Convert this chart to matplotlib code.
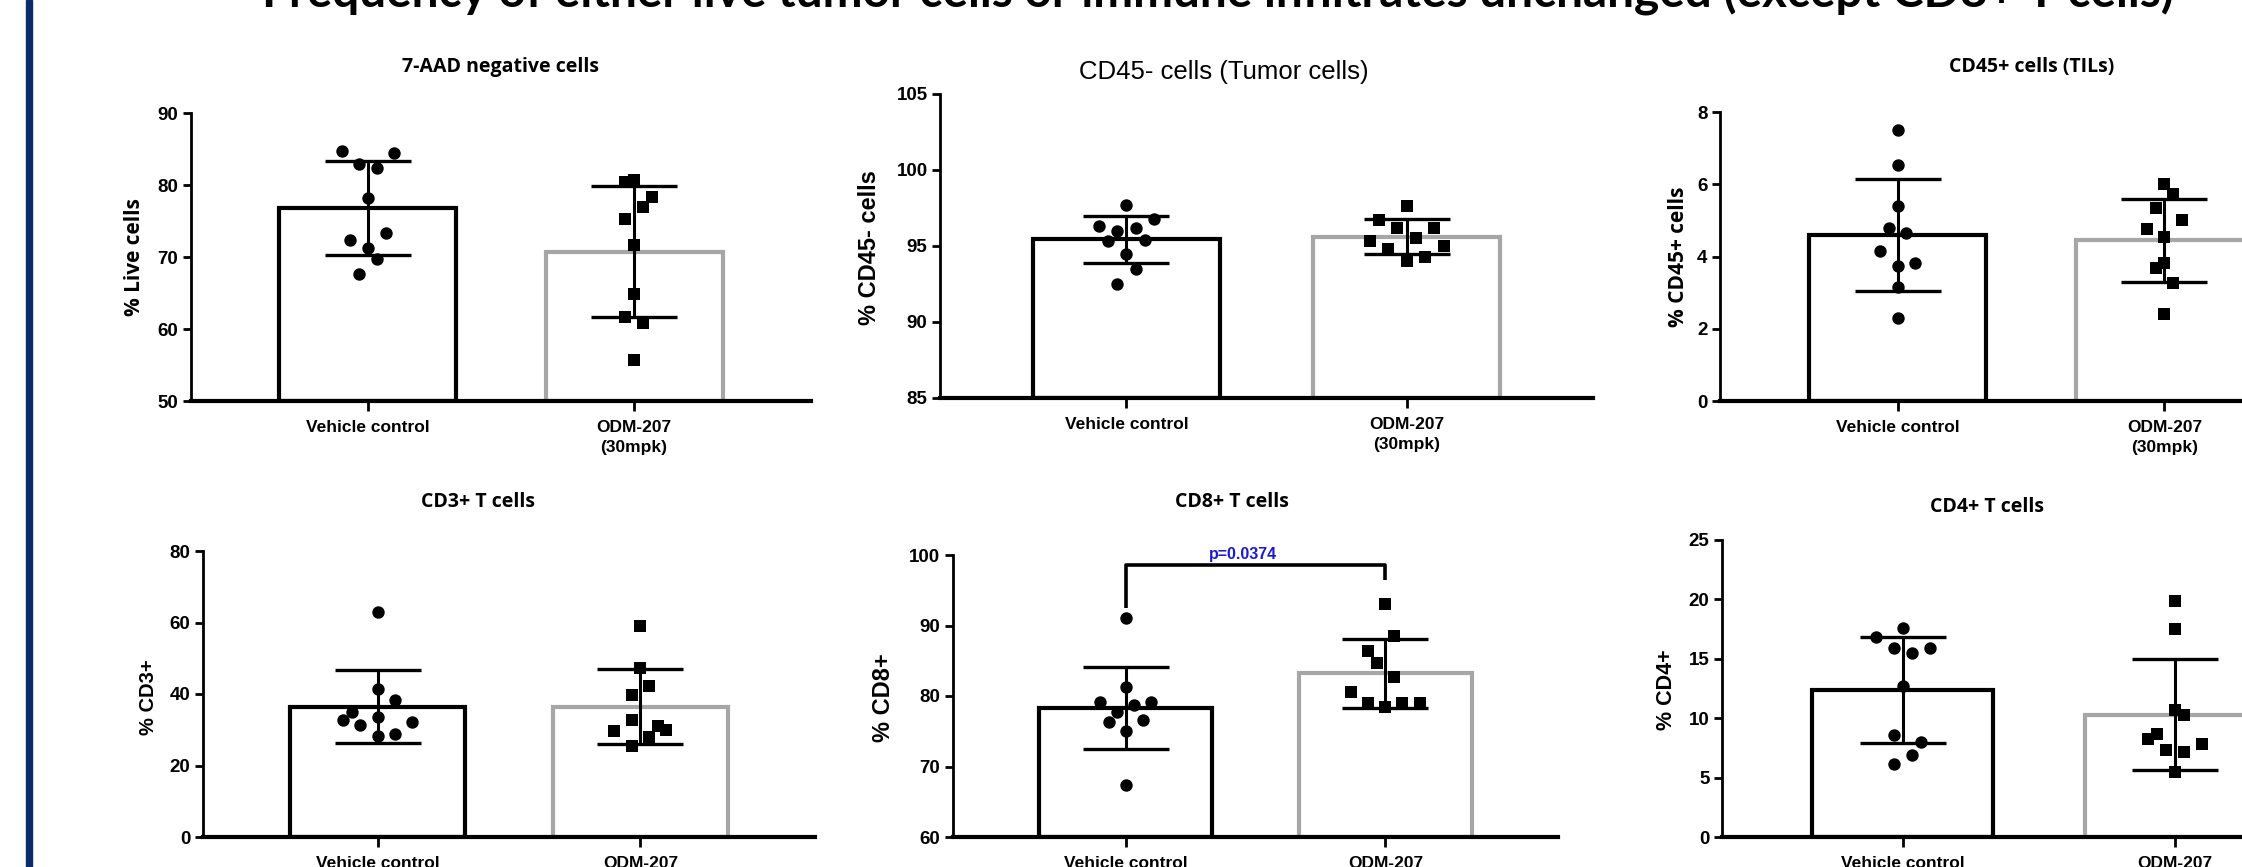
import numpy as np
import matplotlib.pyplot as plt
from matplotlib.patches import Rectangle

W, H = 2242, 867
DPI = 100

groups = ["Vehicle control", "ODM-207\n(30mpk)"]
main_title = "Frequency of either live tumor cells or immune infiltrates unchanged (except CD8+ T cells)"

# --- values (10 animals per group) ---
# 7-AAD negative cells
live_veh = [84.7, 84.4, 82.9, 82.4, 78.2, 73.4, 72.4, 71.3, 69.7, 67.7]
live_odm = [80.4, 80.7, 78.3, 77.0, 75.3, 71.6, 64.8, 61.7, 60.9, 55.7]
live_mean = [76.8, 70.7]
live_sd = [6.5, 9.1]

# CD45- cells (tumor)
cd45n_veh = [97.7, 96.8, 96.3, 96.0, 96.2, 95.3, 95.4, 94.5, 93.5, 92.5]
cd45n_odm = [97.6, 96.7, 96.2, 96.2, 95.5, 95.3, 95.0, 94.8, 94.3, 94.0]
cd45n_mean = [95.45, 95.6]
cd45n_sd = [1.55, 1.15]

# CD45+ cells (TILs)
cd45p_veh = [7.49, 6.52, 5.40, 4.79, 4.64, 4.15, 3.82, 3.74, 3.16, 2.29]
cd45p_odm = [6.02, 5.74, 5.33, 5.00, 4.76, 4.53, 3.82, 3.69, 3.27, 2.40]
cd45p_mean = [4.6, 4.45]
cd45p_sd = [1.55, 1.15]

# CD3+ T cells
cd3_veh = [62.8, 41.4, 38.2, 35.1, 33.5, 32.6, 32.1, 31.2, 28.3, 28.8]
cd3_odm = [59.1, 47.2, 42.3, 39.8, 32.8, 31.1, 29.7, 30.0, 27.9, 25.5]
cd3_mean = [36.5, 36.5]
cd3_sd = [10.2, 10.5]

# CD8+ T cells
cd8_veh = [91.0, 81.3, 79.1, 79.1, 78.7, 77.7, 76.3, 76.6, 75.0, 67.4]
cd8_odm = [93.1, 88.5, 86.4, 84.7, 82.7, 80.6, 79.0, 79.0, 79.0, 78.5]
cd8_mean = [78.3, 83.2]
cd8_sd = [5.8, 4.95]
cd8_bracket = [92.5, 98.6, 96.5]   # left leg, top, right leg
cd8_p = "p=0.0374"

# CD4+ T cells
cd4_veh = [17.6, 16.8, 15.9, 15.45, 15.9, 12.7, 8.57, 8.0, 6.88, 6.18]
cd4_odm = [19.86, 17.47, 10.67, 10.25, 8.7, 8.29, 7.81, 7.3, 7.16, 5.48]
cd4_mean = [12.4, 10.3]
cd4_sd = [4.45, 4.7]

# horizontal scatter columns (as arranged in the original)
live_slot = ([-3, 3, -1, 1, 0, 2, -2, 0, 1, -1], [-1, 0, 2, 1, -1, 0, 0, -1, 1, 0])
cd45n_slot = ([0, 3, -3, -1, 1, -2, 2, 0, 1, -1], [0, -3, -1, 3, 1, -4, 4, -2, 2, 0])
cd45p_slot = ([0, 0, 0, -1, 1, -2, 2, 0, 0, 0], [0, 1, -1, 2, -2, 0, 0, -1, 1, 0])
cd3_slot = ([0, 0, 2, -3, 0, -4, 4, -2, 0, 2], [0, 0, 1, -1, -1, 2, -3, 3, 1, -1])
cd8_slot = ([0, 0, -3, 3, 1, -1, -2, 2, 0, 0], [0, 1, -2, -1, 1, -4, -2, 2, 4, 0])
cd4_slot = ([0, -3, -1, 1, 3, 0, -1, 2, 1, -1], [0, 0, 0, 1, -2, -3, 3, -1, 1, 0])

NARROW = ['Liberation Sans Narrow', 'Liberation Sans', 'DejaVu Sans']
ARIAL = ['Liberation Sans', 'DejaVu Sans']
SANS = ['Open Sans', 'DejaVu Sans']


def fpos(x, y):
    return x / W, 1 - y / H


def draw_panel(ax, veh, odm, slots, mean, sd, ylim, yticks):
    x = np.arange(2)
    ax.bar(x, np.array(mean) - ylim[0], bottom=ylim[0], width=0.665,
           color='white', edgecolor=['black', '#a6a6a6'], linewidth=3, zorder=1)
    ax.errorbar(x, mean, yerr=sd, fmt='none', ecolor='black', elinewidth=2.2,
                capsize=31, capthick=2.4, zorder=3)
    step = 0.033
    ax.scatter(0 + step * np.array(slots[0]), veh, marker='o', s=80,
               color='black', zorder=4, linewidths=0)
    ax.scatter(1 + step * np.array(slots[1]), odm, marker='s', s=74,
               color='black', zorder=4, linewidths=0)
    ax.set_xlim(-0.665, 1.665)
    ax.set_ylim(ylim)
    ax.set_yticks(yticks)
    ax.set_xticks(x)
    ax.set_xticklabels(groups, family=ARIAL, fontweight='bold', fontsize=12.5,
                       linespacing=1.4)
    for lab in ax.get_yticklabels():
        lab.set_family(NARROW)
        lab.set_fontweight('bold')
        lab.set_fontsize(13.5)
    for s in ['top', 'right']:
        ax.spines[s].set_visible(False)
    ax.spines['left'].set_linewidth(2.0)
    ax.spines['bottom'].set_linewidth(3.0)
    ax.tick_params(axis='y', length=6, width=2, pad=3)
    ax.tick_params(axis='x', length=7, width=2, pad=7)
    ax.patch.set_alpha(0)


fig = plt.figure(figsize=(W / DPI, H / DPI), dpi=DPI)

# left accent bar of the slide
fig.patches.append(Rectangle(fpos(26, 867), 6 / W, 1, transform=fig.transFigure,
                             color='#0d2b6b', zorder=0))

panels = [
    # data, slots, mean, sd, ylim, yticks, rect(px: left, top, right, bottom)
    (live_veh, live_odm, live_slot, live_mean, live_sd, (50, 90), [50, 60, 70, 80, 90], (191, 113, 811, 401)),
    (cd45n_veh, cd45n_odm, cd45n_slot, cd45n_mean, cd45n_sd, (85, 105), [85, 90, 95, 100, 105], (940, 94, 1593, 398)),
    (cd45p_veh, cd45p_odm, cd45p_slot, cd45p_mean, cd45p_sd, (0, 8), [0, 2, 4, 6, 8], (1720, 112, 2342, 401)),
    (cd3_veh, cd3_odm, cd3_slot, cd3_mean, cd3_sd, (0, 80), [0, 20, 40, 60, 80], (203, 551, 815, 837)),
    (cd8_veh, cd8_odm, cd8_slot, cd8_mean, cd8_sd, (60, 100), [60, 70, 80, 90, 100], (953, 555, 1558, 837)),
    (cd4_veh, cd4_odm, cd4_slot, cd4_mean, cd4_sd, (0, 25), [0, 5, 10, 15, 20, 25], (1722, 540, 2356, 837)),
]

axes = []
for veh, odm, slots, mean, sd, ylim, yticks, (l, t, r, b) in panels:
    ax = fig.add_axes([l / W, 1 - b / H, (r - l) / W, (b - t) / H])
    draw_panel(ax, veh, odm, slots, mean, sd, ylim, yticks)
    axes.append(ax)

# significance bracket on the CD8 panel
ax8 = axes[4]
ax8.plot([0, 0, 1, 1], [cd8_bracket[0], cd8_bracket[1], cd8_bracket[1], cd8_bracket[2]],
         color='black', lw=2.6, solid_capstyle='butt', zorder=5, clip_on=False)
ax8.text(0.45, cd8_bracket[1] + 0.4, cd8_p, ha='center', va='bottom', color='#1a1ad0',
         fontsize=11.5, fontweight='bold', family=NARROW)

# panel titles
titles = [
    ("7-AAD negative cells", 501, 67, SANS, 'bold', 14),
    ("CD45- cells (Tumor cells)", 1224, 72, NARROW, 'normal', 18.5),
    ("CD45+ cells (TILs)", 2032, 67, SANS, 'bold', 14),
    ("CD3+ T cells", 478, 502, SANS, 'bold', 14),
    ("CD8+ T cells", 1232, 502, SANS, 'bold', 14),
    ("CD4+ T cells", 1987, 507, SANS, 'bold', 14),
]
for txt, x, y, fam, wt, fs in titles:
    fig.text(*fpos(x, y), txt, ha='center', va='center', family=fam,
             fontweight=wt, fontsize=fs)

# y-axis labels
ylabels = [
    ("% Live cells", 135, 257, SANS, 15),
    ("% CD45- cells", 870, 248, ARIAL, 17),
    ("% CD45+ cells", 1679, 257, SANS, 15),
    ("% CD3+", 148, 697, ARIAL, 14.5),
    ("% CD8+", 884, 698, ARIAL, 17),
    ("% CD4+", 1666, 690, ARIAL, 15.5),
]
for txt, x, y, fam, fs in ylabels:
    fig.text(*fpos(x, y), txt, ha='center', va='center', rotation=90,
             family=fam, fontweight='bold', fontsize=fs)

# slide title, mostly cut off by the top edge
tt = fig.text(*fpos(262, 7), main_title, ha='left', va='baseline',
              family=['Lato', 'DejaVu Sans'], fontweight='bold', fontsize=30)
fig.canvas.draw()
w = tt.get_window_extent().width
tt.set_fontsize(30 * 1915 / w)

fig.savefig('out.png', dpi=DPI)
